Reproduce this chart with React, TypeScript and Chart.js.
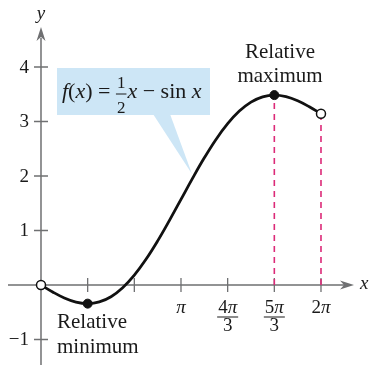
import { useEffect, useRef } from "react";
import { Chart, registerables } from "chart.js";

Chart.register(...registerables);

// f(x) = x/2 - sin x, sampled every pi/12 from 0 to 2pi (values read as estimates)
const curveX = [0, 0.2618, 0.5236, 0.7854, 1.0472, 1.309, 1.5708, 1.8326, 2.0944, 2.3562, 2.618, 2.8798, 3.1416, 3.4034, 3.6652, 3.927, 4.1888, 4.4506, 4.7124, 4.9742, 5.236, 5.4978, 5.7596, 6.0214, 6.2832];
const curveY = [0, -0.128, -0.238, -0.314, -0.342, -0.311, -0.215, -0.05, 0.181, 0.471, 0.809, 1.181, 1.571, 1.961, 2.333, 2.671, 2.96, 3.191, 3.356, 3.453, 3.484, 3.456, 3.38, 3.27, 3.142];
const extremaX = [1.0472, 5.236];
const extremaY = [-0.342, 3.484];
const endpointX = [0, 6.2832];
const endpointY = [0, 3.142];
const dashX = [5.236, 6.2832];
const dashTopY = [3.484, 3.142];
const xTickValues = [1.0472, 2.0944, 3.1416, 4.1888, 5.236, 6.2832];
const xTickNum = ["", "", "π", "4π", "5π", "2π"];
const xTickDen = ["", "", "", "3", "3", ""];
const yTickValues = [-1, 1, 2, 3, 4];
const yTickLabels = ["−1", "1", "2", "3", "4"];

const SERIF = "'Liberation Serif', 'DejaVu Serif', serif";
const AXIS = "#6f7072";
const PINK = "#dc2a78";
const BLUE = "#cde6f6";

const decorPlugin = {
  id: "decor",
  beforeDatasetsDraw(chart: any) {
    const { ctx } = chart;
    const xs = chart.scales.x;
    const ys = chart.scales.y;
    const x0 = xs.getPixelForValue(0);
    const y0 = ys.getPixelForValue(0);
    ctx.save();

    // callout box
    ctx.fillStyle = BLUE;
    ctx.fillRect(57, 68, 153, 47);
    ctx.beginPath();
    ctx.moveTo(153, 114);
    ctx.lineTo(170, 114);
    ctx.lineTo(192, 174);
    ctx.closePath();
    ctx.fill();

    // formula
    ctx.fillStyle = "#1a1a1a";
    ctx.textBaseline = "alphabetic";
    ctx.textAlign = "left";
    const base = 98;
    let cx = 62;
    const it = `italic 22px ${SERIF}`;
    const rm = `22px ${SERIF}`;
    const put = (t: string, f: string) => {
      ctx.font = f;
      ctx.fillText(t, cx, base);
      cx += ctx.measureText(t).width;
    };
    put("f", it);
    put("(", rm);
    put("x", it);
    put(")", rm);
    put(" = ", rm);
    ctx.font = `17px ${SERIF}`;
    const fw = ctx.measureText("2").width + 2;
    ctx.textAlign = "center";
    ctx.fillText("1", cx + fw / 2, 88);
    ctx.fillText("2", cx + fw / 2, 113);
    ctx.fillRect(cx, 93.5, fw, 1);
    ctx.textAlign = "left";
    cx += fw + 1;
    put("x", it);
    put(" − ", rm);
    put("sin ", rm);
    put("x", it);

    // axes
    ctx.strokeStyle = AXIS;
    ctx.fillStyle = AXIS;
    ctx.lineWidth = 1.5;
    ctx.beginPath();
    ctx.moveTo(8, y0);
    ctx.lineTo(344, y0);
    ctx.moveTo(x0, 365);
    ctx.lineTo(x0, 38);
    ctx.stroke();
    // arrow heads
    ctx.beginPath();
    ctx.moveTo(354, y0);
    ctx.lineTo(340, y0 - 4.5);
    ctx.lineTo(344, y0);
    ctx.lineTo(340, y0 + 4.5);
    ctx.closePath();
    ctx.fill();
    ctx.beginPath();
    ctx.moveTo(x0, 27);
    ctx.lineTo(x0 - 4.5, 41);
    ctx.lineTo(x0, 37);
    ctx.lineTo(x0 + 4.5, 41);
    ctx.closePath();
    ctx.fill();

    // ticks
    ctx.lineWidth = 1.3;
    ctx.beginPath();
    xTickValues.forEach((v) => {
      const px = xs.getPixelForValue(v);
      ctx.moveTo(px, y0 - 7);
      ctx.lineTo(px, y0 + 7);
    });
    yTickValues.forEach((v) => {
      const py = ys.getPixelForValue(v);
      ctx.moveTo(x0 - 7, py);
      ctx.lineTo(x0 + 7, py);
    });
    ctx.stroke();

    // tick labels
    ctx.fillStyle = "#1a1a1a";
    ctx.font = `19px ${SERIF}`;
    ctx.textAlign = "right";
    ctx.textBaseline = "middle";
    yTickValues.forEach((v, i) => {
      ctx.fillText(yTickLabels[i], 29, ys.getPixelForValue(v) + 1);
    });
    ctx.textAlign = "center";
    ctx.textBaseline = "alphabetic";
    xTickValues.forEach((v, i) => {
      const px = xs.getPixelForValue(v);
      const num = xTickNum[i];
      if (!num) return;
      const digits = num.replace("π", "");
      ctx.font = `19px ${SERIF}`;
      const dw = ctx.measureText(digits).width;
      ctx.font = `italic 19px ${SERIF}`;
      const pw = ctx.measureText("π").width;
      const tw = dw + pw;
      const left = px - tw / 2;
      ctx.textAlign = "left";
      ctx.font = `19px ${SERIF}`;
      ctx.fillText(digits, left, 313);
      ctx.font = `italic 19px ${SERIF}`;
      ctx.fillText("π", left + dw, 313);
      ctx.textAlign = "center";
      if (xTickDen[i]) {
        ctx.fillRect(px - tw / 2 - 1, 316.5, tw + 2, 1);
        ctx.font = `19px ${SERIF}`;
        ctx.fillText(xTickDen[i], px, 331);
      }
    });

    // axis names
    ctx.font = `italic 19px ${SERIF}`;
    ctx.textAlign = "center";
    ctx.fillText("y", x0, 19);
    ctx.textAlign = "left";
    ctx.fillText("x", 360, y0 + 4);

    // annotations
    ctx.font = `21px ${SERIF}`;
    ctx.textAlign = "center";
    ctx.fillText("Relative", 280, 58);
    ctx.fillText("maximum", 280, 82);
    ctx.textAlign = "left";
    ctx.fillText("Relative", 57, 328);
    ctx.fillText("minimum", 57, 353);

    ctx.restore();
  },
};

export default function App() {
  const ref = useRef<HTMLCanvasElement | null>(null);
  useEffect(() => {
    document.body.style.margin = "0";
    if (!ref.current) return;
    const dashSets = dashX.map((x, i) => ({
      data: [
        { x, y: 0 },
        { x, y: dashTopY[i] },
      ],
      showLine: true,
      borderColor: PINK,
      borderWidth: 1.6,
      borderDash: [6, 5],
      pointRadius: 0,
      order: 3,
    }));
    const chart = new Chart(ref.current, {
      type: "scatter",
      data: {
        datasets: [
          ...dashSets,
          {
            data: curveX.map((x, i) => ({ x, y: curveY[i] })),
            showLine: true,
            borderColor: "#111",
            borderWidth: 2.8,
            tension: 0.4,
            pointRadius: 0,
            order: 2,
          },
          {
            data: extremaX.map((x, i) => ({ x, y: extremaY[i] })),
            pointRadius: 4.5,
            backgroundColor: "#111",
            borderColor: "#111",
            borderWidth: 1,
            order: 1,
          },
          {
            data: endpointX.map((x, i) => ({ x, y: endpointY[i] })),
            pointRadius: 4.5,
            backgroundColor: "#fff",
            borderColor: "#111",
            borderWidth: 1.5,
            order: 0,
          },
        ],
      },
      options: {
        responsive: false,
        animation: false,
        layout: { padding: 0, autoPadding: false },
        plugins: { legend: { display: false }, tooltip: { enabled: false } },
        scales: {
          x: { type: "linear", min: -0.92, max: 7.383, display: false },
          y: { type: "linear", min: -1.468, max: 5.229, display: false },
        },
      },
      plugins: [decorPlugin],
    });
    return () => chart.destroy();
  }, []);
  return (
    <div style={{ position: "fixed", left: 0, top: 0, width: 370, height: 365, background: "#fff" }}>
      <canvas ref={ref} width={370} height={365} />
    </div>
  );
}
